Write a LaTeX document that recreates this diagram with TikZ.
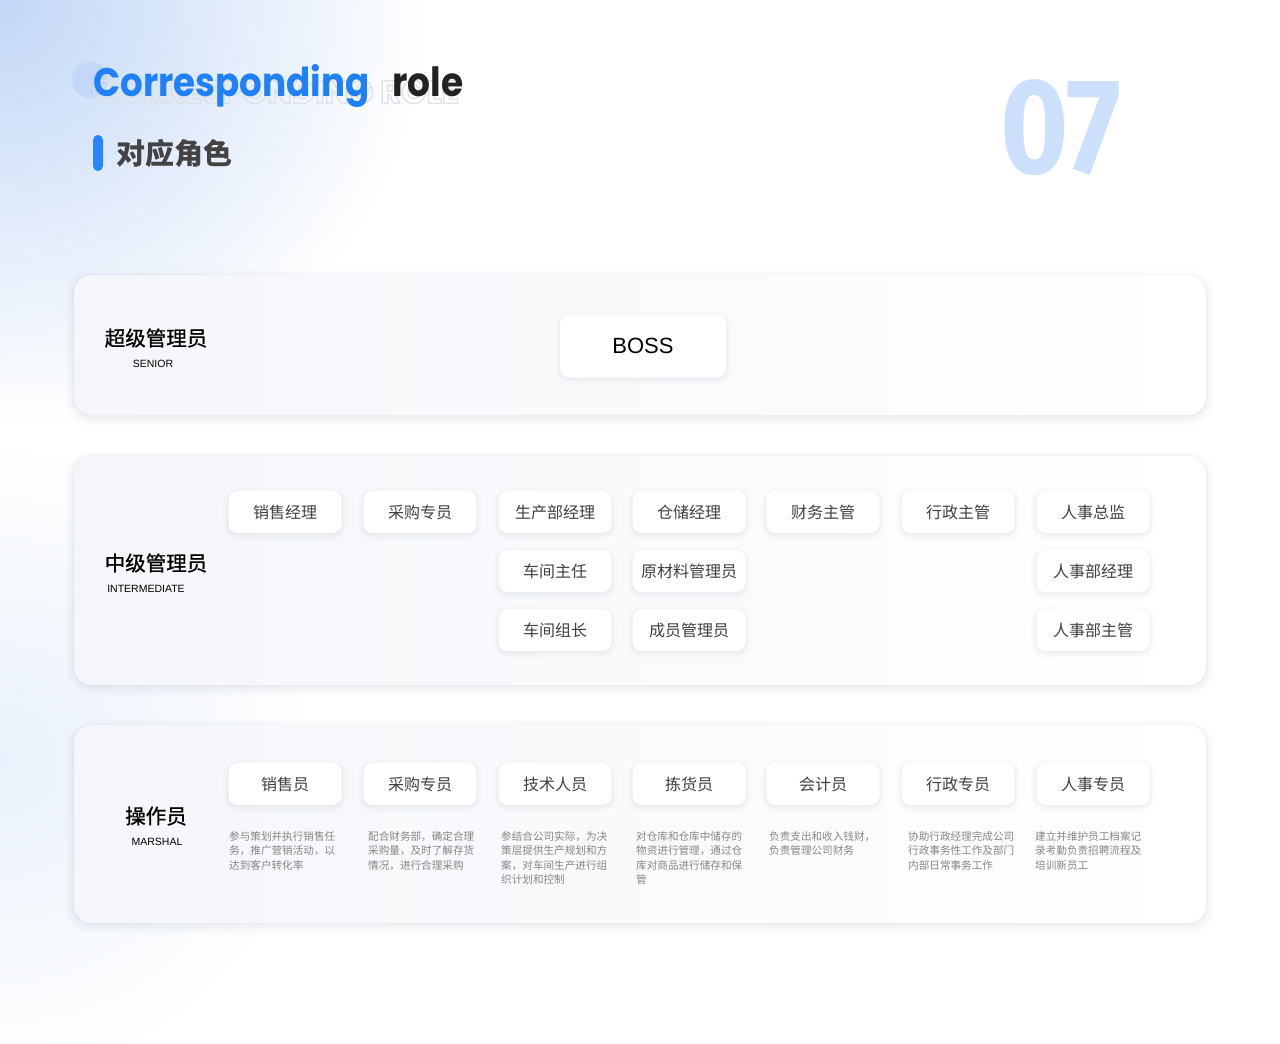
\documentclass[tikz,border=0pt]{standalone}
\usepackage{fontspec}
\setmainfont{Liberation Sans}
\newfontfamily\cjk{Noto Sans CJK SC}
\newfontfamily\cjkm{Noto Sans CJK SC}[FakeBold=0.9]
\newfontfamily\pop{Poppins}
\newfontfamily\fira{Fira Sans}
\definecolor{titleblue}{HTML}{2080F7}
\definecolor{roledark}{HTML}{222222}
\definecolor{chiptext}{HTML}{404040}
\definecolor{descgray}{HTML}{858585}
\definecolor{sevenblue}{HTML}{CCE0FB}
\definecolor{bgblue}{HTML}{C2D7F6}
\definecolor{circblue}{HTML}{C3D8F8}
\definecolor{panelL}{HTML}{F4F6FA}
\definecolor{barblue}{HTML}{2A86F6}
\definecolor{shadowc}{HTML}{5A6A85}
\definecolor{echoc}{HTML}{DDE0E6}
\tikzset{
  softshadow/.style={
    preaction={draw=shadowc, draw opacity=0.018, line width=16pt, transform canvas={yshift=-3pt}},
    preaction={draw=shadowc, draw opacity=0.025, line width=10pt, transform canvas={yshift=-3pt}},
    preaction={draw=shadowc, draw opacity=0.03, line width=5pt, transform canvas={yshift=-2pt}},
    preaction={draw=shadowc, draw opacity=0.04, line width=2pt, transform canvas={yshift=-1pt}}},
  chipshadow/.style={
    preaction={draw=shadowc, draw opacity=0.02, line width=10pt, transform canvas={yshift=-2pt}},
    preaction={draw=shadowc, draw opacity=0.03, line width=5pt, transform canvas={yshift=-2pt}},
    preaction={draw=shadowc, draw opacity=0.035, line width=2pt, transform canvas={yshift=-1pt}}},
  panel/.style={rounded corners=18pt, left color=panelL, right color=white, softshadow},
  chip/.style={rounded corners=9pt, fill=white, minimum width=113pt, minimum height=42pt, inner sep=0pt,
    chipshadow, font=\cjk\fontsize{16}{18}\selectfont, text=chiptext},
  lvl/.style={font=\cjkm\fontsize{20.5}{24}\selectfont, text=black, inner sep=0pt},
  lvlen/.style={font=\fontsize{10.5}{12}\selectfont, text=black, inner sep=0pt},
  desc/.style={anchor=north west, align=left, inner sep=0pt, font=\cjk\fontsize{10.6}{14.5}\selectfont, text=descgray},
  echo/.style={anchor=west, inner sep=0pt}
}
\newcommand{\echotext}{\pop\bfseries\resizebox{366pt}{!}{CORRESPONDING ROLE}}
\begin{document}
\begin{tikzpicture}[x=1pt,y=1pt]
\path[use as bounding box] (0,0) rectangle (1280,-1044);
\fill[white] (0,0) rectangle (1280,-1044);
\shade[inner color=bgblue, outer color=white] (0,0) circle[radius=430];
\shade[inner color=bgblue!35, outer color=white] (0,-760) circle[radius=320];
% decorative circle
\fill[circblue] (90,-80) circle[radius=18];
% echo title (outlined text)
\node[echo, text=echoc] (echo) at (93,-92) {\special{pdf:literal direct 1 Tr 0.4 w}\echotext\special{pdf:literal direct 0 Tr}};
% title
\node[anchor=base west, inner sep=0pt, text=titleblue] (t1) at (93,-96) {\scalebox{1}[1.12]{\resizebox{276pt}{!}{\pop\bfseries Corresponding}}};
\node[anchor=base west, inner sep=0pt, text=roledark] (t2) at (392,-96) {\scalebox{1}[1.12]{\resizebox{71pt}{!}{\pop\bfseries role}}};
% subtitle
\fill[barblue, rounded corners=5pt] (93,-135) rectangle (103,-171);
\node[anchor=west, inner sep=0pt, text=roledark!85] (sub) at (116,-153) {\cjk\bfseries\fontsize{29}{32}\selectfont 对应角色};
% 07
\node[inner sep=0pt, text=sevenblue] (num) at (1061,-128) {\scalebox{0.86}[1]{\fira\bfseries\fontsize{136}{140}\selectfont 07}};

% panels
\path[panel] (74,-275) rectangle (1206,-415);
\path[panel] (74,-456) rectangle (1206,-685);
\path[panel] (74,-725) rectangle (1206,-923);

% level labels
\node[lvl] (l1) at (156,-338) {超级管理员};
\node[lvlen] (l1e) at (153,-364) {SENIOR};
\node[lvl] (l2) at (156,-563) {中级管理员};
\node[lvlen] (l2e) at (146,-589) {INTERMEDIATE};
\node[lvl] (l3) at (156,-816) {操作员};
\node[lvlen] (l3e) at (157,-842) {MARSHAL};

% boss
\node[chip, minimum width=166pt, minimum height=63pt, font=\fontsize{22}{24}\selectfont, text=black] (boss) at (643,-346) {BOSS};

% middle level
\node[chip] (m11) at (285,-512) {销售经理};
\node[chip] (m12) at (420,-512) {采购专员};
\node[chip] (m13) at (555,-512) {生产部经理};
\node[chip] (m14) at (689,-512) {仓储经理};
\node[chip] (m15) at (823,-512) {财务主管};
\node[chip] (m16) at (958,-512) {行政主管};
\node[chip] (m17) at (1093,-512) {人事总监};
\node[chip] (m23) at (555,-571) {车间主任};
\node[chip] (m24) at (689,-571) {原材料管理员};
\node[chip] (m27) at (1093,-571) {人事部经理};
\node[chip] (m33) at (555,-630) {车间组长};
\node[chip] (m34) at (689,-630) {成员管理员};
\node[chip] (m37) at (1093,-630) {人事部主管};

% operators
\node[chip] (o1) at (285,-784) {销售员};
\node[chip] (o2) at (420,-784) {采购专员};
\node[chip] (o3) at (555,-784) {技术人员};
\node[chip] (o4) at (689,-784) {拣货员};
\node[chip] (o5) at (823,-784) {会计员};
\node[chip] (o6) at (958,-784) {行政专员};
\node[chip] (o7) at (1093,-784) {人事专员};

\node[desc] (d1) at (229,-831) {参与策划并执行销售任\\务，推广营销活动，以\\达到客户转化率};
\node[desc] (d2) at (368,-831) {配合财务部，确定合理\\采购量，及时了解存货\\情况，进行合理采购};
\node[desc] (d3) at (501,-831) {参结合公司实际，为决\\策层提供生产规划和方\\案，对车间生产进行组\\织计划和控制};
\node[desc] (d4) at (636,-831) {对仓库和仓库中储存的\\物资进行管理，通过仓\\库对商品进行储存和保\\管};
\node[desc] (d5) at (769,-831) {负责支出和收入钱财，\\负责管理公司财务};
\node[desc] (d6) at (908,-831) {协助行政经理完成公司\\行政事务性工作及部门\\内部日常事务工作};
\node[desc] (d7) at (1035,-831) {建立并维护员工档案记\\录考勤负责招聘流程及\\培训新员工};
\end{tikzpicture}
\end{document}
